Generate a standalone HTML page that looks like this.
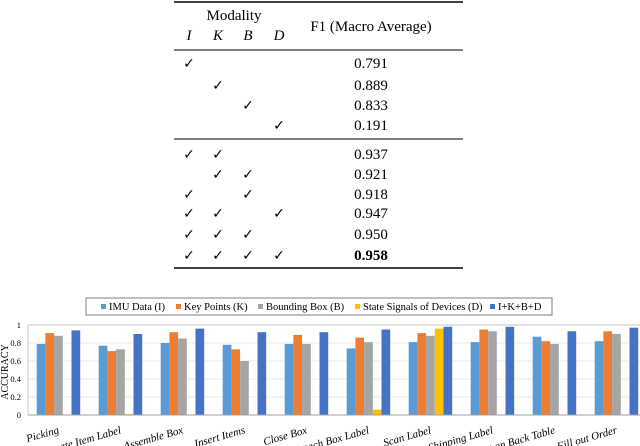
<!DOCTYPE html>
<html><head><meta charset="utf-8"><style>
body{margin:0;background:#fff;width:640px;height:446px;overflow:hidden;position:relative;font-family:"Liberation Serif",serif}
svg{position:absolute;left:0;top:0}
</style></head><body>
<svg width="640" height="446" font-family="Liberation Serif, serif">
<g id="table"></g>
<g id="chart"></g>
</svg>
<script>
const rowsChecks=[[1,0,0,0],[0,1,0,0],[0,0,1,0],[0,0,0,1],[1,1,0,0],[0,1,1,0],[1,0,1,0],[1,1,0,1],[1,1,1,0],[1,1,1,1]];
const rowsF1=["0.791","0.889","0.833","0.191","0.937","0.921","0.918","0.947","0.950","0.958"];
const categories=["Picking","Locate Item Label","Assemble Box","Insert Items","Close Box","Attach Box Label","Scan Label","Print Shipping Label","Put on Back Table","Fill out Order"];
const seriesNames=["IMU Data (I)","Key Points (K)","Bounding Box (B)","State Signals of Devices (D)","I+K+B+D"];
const seriesColors=["#5b9bd5","#ed7d31","#a5a5a5","#ffc000","#4472c4"];
const valsI=[0.79,0.77,0.80,0.78,0.79,0.74,0.81,0.81,0.87,0.82];
const valsK=[0.91,0.71,0.92,0.73,0.89,0.86,0.91,0.95,0.82,0.93];
const valsB=[0.88,0.73,0.85,0.60,0.79,0.81,0.88,0.93,0.79,0.90];
const valsD=[0,0.01,0,0,0,0.06,0.96,0,0,0];
const valsAll=[0.94,0.90,0.96,0.92,0.92,0.95,0.98,0.98,0.93,0.97];
const yTicks=[0,0.2,0.4,0.6,0.8,1];
const yTickLabels=["0","0.2","0.4","0.6","0.8","1"];

const NS="http://www.w3.org/2000/svg";
function mk(p,tag,at,txt){const e=document.createElementNS(NS,tag);for(const k in at)e.setAttribute(k,at[k]);if(txt!==undefined)e.textContent=txt;p.appendChild(e);return e;}

// table
const T=document.getElementById('table');
let e;
e=mk(T,'line',{x1:174,x2:463,y1:2,y2:2,stroke:'#000','stroke-width':1.6});

e=mk(T,'line',{x1:174,x2:463,y1:50,y2:50,stroke:'#000','stroke-width':0.9});

e=mk(T,'line',{x1:174,x2:463,y1:139,y2:139,stroke:'#000','stroke-width':0.9});

e=mk(T,'line',{x1:174,x2:463,y1:268,y2:268,stroke:'#000','stroke-width':1.6});

e=mk(T,'text',{x:234,y:20,'font-size':15,'text-anchor':'middle'},'Modality');

e=mk(T,'text',{x:371,y:31,'font-size':15,'text-anchor':'middle'},'F1 (Macro Average)');

const colX=[189,218,248,279],colN=["I","K","B","D"];
colN.forEach((n,i)=>{e=mk(T,'text',{x:colX[i],y:40,'font-size':15,'font-style':'italic','text-anchor':'middle'},n);
});
const rowY=[63,85,105,125,154,174,194,213,234,255];
rowsChecks.forEach((r,ri)=>{
 r.forEach((c,ci)=>{if(c){e=mk(T,'text',{x:colX[ci],y:rowY[ri]+5,'font-size':14,'text-anchor':'middle','font-family':'DejaVu Sans, sans-serif'},'✓');
 }});
 e=mk(T,'text',{x:371,y:rowY[ri]+5,'font-size':15,'text-anchor':'middle','font-weight':ri===9?'bold':'normal'},rowsF1[ri]);
 
});

// chart
const C=document.getElementById('chart');
const x0=28,x1=640,yb=415,yt=325;
const y=v=>yb-(yb-yt)*v;
const gx=i=>36.7+62*i;
const bw=8.7;
yTicks.forEach((t,i)=>{
 if(t>0){e=mk(C,'line',{x1:x0,x2:x1,y1:y(t),y2:y(t),stroke:'#e4e4e4','stroke-width':0.8});
 }
 e=mk(C,'text',{x:21,y:y(t)+3,'font-size':8.5,'text-anchor':'end'},yTickLabels[i]);
 
});
e=mk(C,'rect',{x:x0,y:yt,width:x1-x0+2,height:yb-yt,fill:'none',stroke:'#bfbfbf','stroke-width':0.8});

e=mk(C,'text',{x:0,y:0,'font-size':10,'text-anchor':'middle',transform:'translate(8,372) rotate(-90)'},'ACCURACY');

const series=[valsI,valsK,valsB,valsD,valsAll];
categories.forEach((c,i)=>{
 series.forEach((s,si)=>{const v=s[i];if(v<=0)return;
  e=mk(C,'rect',{x:gx(i)+si*bw,y:y(v),width:bw,height:yb-y(v),fill:seriesColors[si]});
  });
 const cx=gx(i)+23;
 e=mk(C,'text',{x:0,y:0,'font-size':11,'font-style':'italic','text-anchor':'end',transform:`translate(${cx},433) rotate(-16)`},c);
 
});
e=mk(C,'line',{x1:x0,x2:x1,y1:yb,y2:yb,stroke:'#a0a0a0','stroke-width':1});

// legend
const L=mk(C,'g',{});

e=mk(L,'rect',{x:86,y:298,width:466,height:17,fill:'#fff',stroke:'#7f7f7f','stroke-width':1});

const lx=[101,176,258,355,490];
seriesNames.forEach((n,i)=>{
 e=mk(L,'rect',{x:lx[i],y:304,width:5,height:5,fill:seriesColors[i]});
 
 e=mk(L,'text',{x:lx[i]+8,y:310,'font-size':10.5},n);
 
});
</script>
</body></html>
